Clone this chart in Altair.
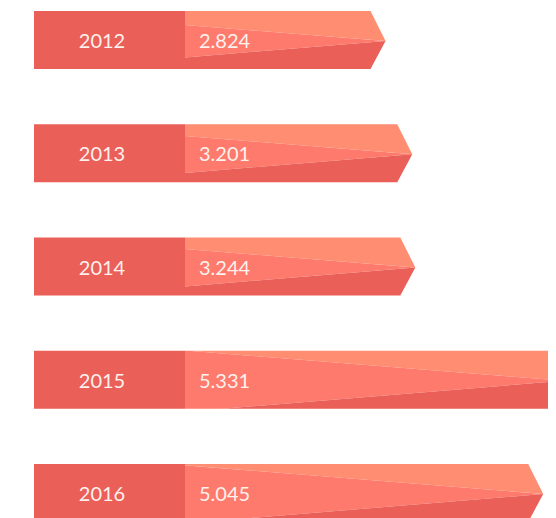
import altair as alt
import pandas as pd

# ---- data ----
years = ["2012", "2013", "2014", "2015", "2016"]
values = [2.824, 3.201, 3.244, 5.331, 5.045]
value_labels = ["2.824", "3.201", "3.244", "5.331", "5.045"]

# ---- layout constants (pixels) ----
W, H = 540, 510
PX_PER_UNIT = 71.0
ROW_PX = 113.25
BAR_START_PX = 177
FIRST_CENTER_PX = 32
HALF_PX = 29

X_DOMAIN = [-BAR_START_PX / PX_PER_UNIT, (W - BAR_START_PX) / PX_PER_UNIT]
Y_DOMAIN = [-FIRST_CENTER_PX / ROW_PX, (H - FIRST_CENTER_PX) / ROW_PX]

h = HALF_PX / ROW_PX
tip_off = 1 / ROW_PX
depth = 15 / PX_PER_UNIT
su = 0.08 * PX_PER_UNIT / ROW_PX
sl = 0.082 * PX_PER_UNIT / ROW_PX
box_left = (26 - BAR_START_PX) / PX_PER_UNIT
year_x = (94 - BAR_START_PX) / PX_PER_UNIT

C_BOX = "#EA5F57"
C_MID = "#FE7A6C"
C_TOP = "#FF8D71"
C_BOT = "#EA5F57"

poly = []
for i, (yr, v) in enumerate(zip(years, values)):
    top, bot = i - h, i + h
    ty = i + tip_off

    def up(x):
        return max(top, ty - su * (v - x))

    def lo(x):
        return min(bot, ty + sl * (v - x))

    xu = v - (ty - top) / su
    xl = v - (bot - ty) / sl
    corner = v - depth

    pts_top = [(0.0, top, up(0.0))]
    if xu > 0:
        pts_top.append((xu, top, top))
    pts_top += [(corner, top, up(corner)), (v, ty, ty)]

    pts_mid = [(0.0, up(0.0), lo(0.0))]
    clips = []
    if xu > 0:
        clips.append(xu)
    if xl > 0:
        clips.append(xl)
    for c in sorted(clips):
        pts_mid.append((c, up(c), lo(c)))
    pts_mid.append((v, ty, ty))

    pts_bot = [(0.0, lo(0.0), bot)]
    if xl > 0:
        pts_bot.append((xl, bot, bot))
    pts_bot += [(corner, lo(corner), bot), (v, ty, ty)]

    for facet, pts in (("top", pts_top), ("mid", pts_mid), ("bot", pts_bot)):
        for k, (x, y1, y2) in enumerate(pts):
            poly.append({"key": f"{yr}-{facet}", "facet": facet,
                         "x": float(x), "y": float(y1), "y2": float(y2)})

poly_df = pd.DataFrame(poly)

rows_df = pd.DataFrame({
    "year": years,
    "value": values,
    "label": value_labels,
    "row": list(range(len(years))),
})
rows_df["top"] = rows_df["row"] - h
rows_df["bot"] = rows_df["row"] + h
rows_df["box_left"] = box_left
rows_df["zero"] = 0.0
rows_df["year_x"] = year_x

xs = alt.Scale(domain=X_DOMAIN, nice=False, zero=False)
ys = alt.Scale(domain=Y_DOMAIN, nice=False, zero=False, reverse=True)

facet_color = alt.Color(
    "facet:N",
    scale=alt.Scale(domain=["top", "mid", "bot"], range=[C_TOP, C_MID, C_BOT]),
    legend=None,
)

boxes = alt.Chart(rows_df).mark_rect(color=C_BOX).encode(
    x=alt.X("box_left:Q", scale=xs, axis=None),
    x2="zero:Q",
    y=alt.Y("top:Q", scale=ys, axis=None),
    y2="bot:Q",
)

arrows = alt.Chart(poly_df).mark_area(clip=True, opacity=1).encode(
    x=alt.X("x:Q", scale=xs, axis=None),
    y=alt.Y("y:Q", scale=ys, axis=None),
    y2="y2:Q",
    color=facet_color,
    detail="key:N",
)

text_style = dict(font="Lato", fontSize=20, color="#FFF1EE", baseline="alphabetic", dy=8)

year_text = alt.Chart(rows_df).mark_text(align="center", **text_style).encode(
    x=alt.X("year_x:Q", scale=xs, axis=None),
    y=alt.Y("row:Q", scale=ys, axis=None),
    text="year:N",
)

value_text = alt.Chart(rows_df).mark_text(align="left", dx=14, **text_style).encode(
    x=alt.X("zero:Q", scale=xs, axis=None),
    y=alt.Y("row:Q", scale=ys, axis=None),
    text="label:N",
)

chart = alt.layer(boxes, arrows, year_text, value_text).properties(
    width=W, height=H, padding=0,
    autosize=alt.AutoSizeParams(type="none"),
).configure_view(stroke=None)

chart.save("out.html", embed_options={"renderer": "svg", "actions": False})
